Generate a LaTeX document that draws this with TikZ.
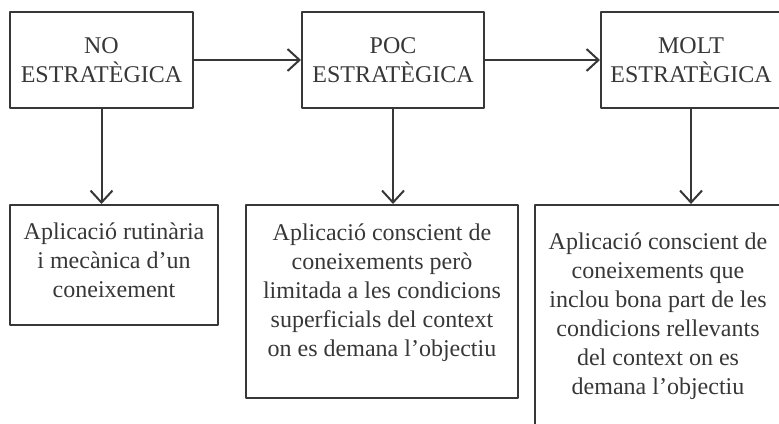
\documentclass[tikz,border=0pt]{standalone}
\usepackage{fontspec}
\setmainfont{Liberation Serif}
\usetikzlibrary{arrows.meta}
\definecolor{ink}{RGB}{55,55,55}
\begin{document}
\begin{tikzpicture}[x=0.5pt,y=-0.5pt,font=\fontsize{12}{14.5}\selectfont, line join=round, line cap=round, >={Straight Barb[length=6pt,width=11pt]},
		box/.style={draw=ink,line width=1pt,text=ink,align=center,inner sep=0pt},
		link/.style={->,draw=ink,line width=1pt}]
	\useasboundingbox (0,0) rectangle (779,423);
	\clip (0,0) rectangle (779,423);
	% nivells
	\node[box,minimum width=91.5pt,minimum height=48pt] (no) at (101.5,60) {NO\\ESTRATÈGICA};
	\node[box,minimum width=91pt,minimum height=48pt] (poc) at (393,60) {POC\\ESTRATÈGICA};
	\node[box,minimum width=90pt,minimum height=48pt] (molt) at (691,60) {MOLT\\ESTRATÈGICA};
	% descripcions
	\node[box,minimum width=104pt,minimum height=60pt,text depth=5pt] (rutina) at (114,265) {Aplicació rutinària\\i mecànica d’un\\coneixement};
	\node[box,minimum width=136pt,minimum height=96.5pt,text depth=11.5pt] (limit) at (382,301.5) {Aplicació conscient de\\coneixements però\\limitada a les condicions\\superficials del context\\on es demana l’objectiu};
	\node[box,minimum width=123pt,minimum height=111pt] (relleu) at (658,316) {Aplicació conscient de\\coneixements que\\inclou bona part de les\\condicions rellevants\\del context on es\\demana l’objectiu};
	% fletxes
	\draw[link] (no.east) -- (poc.west);
	\draw[link] (poc.east) -- (molt.west);
	\draw[link] (no.south) -- (no.south |- rutina.north);
	\draw[link] (poc.south) -- (poc.south |- limit.north);
	\draw[link] (molt.south) -- (molt.south |- relleu.north);
\end{tikzpicture}
\end{document}
